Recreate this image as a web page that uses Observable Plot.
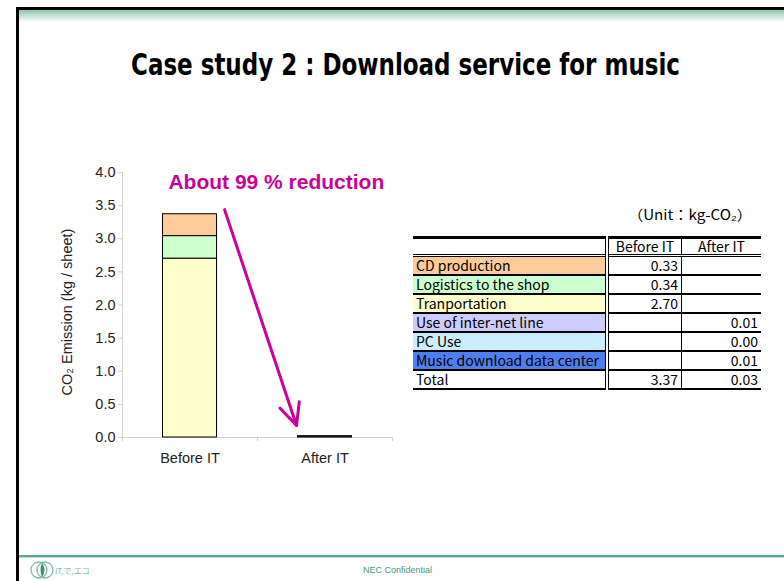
<!DOCTYPE html>
<html>
<head>
<meta charset="utf-8">
<script src="https://cdn.jsdelivr.net/npm/d3@7"></script>
<script src="https://cdn.jsdelivr.net/npm/@observablehq/plot@0.6"></script>
<style>
  html, body { margin: 0; padding: 0; background: #fff; }
  #slide { position: relative; width: 784px; height: 581px; overflow: hidden; background: #fff; font-family: "Liberation Sans", Arial, sans-serif; }
  .abs { position: absolute; }
  #topline { left: 16px; top: 7px; width: 768px; height: 3px; background: #000; }
  #band { left: 18px; top: 10px; width: 766px; height: 12px; background: linear-gradient(#8cc4ab, #ffffff); }
  #leftline { left: 16px; top: 7px; width: 3px; height: 574px; background: #000; }
  #bottomline { left: 19px; top: 555px; width: 765px; height: 2px; background: #5fa88a; }
  #bottomline2 { left: 19px; top: 557px; width: 765px; height: 1px; background: #b5dccb; }
  #title { left: 131px; top: 47px; white-space: nowrap; font-family: "DejaVu Sans", sans-serif; font-stretch: condensed; font-weight: bold; font-size: 30px; color: #000; transform-origin: 0 0; }
  #chart { left: 50px; top: 150px; }
  #unit { left: 628px; top: 204px; font-family: "Noto Sans CJK JP", sans-serif; font-size: 14px; color: #000; white-space: nowrap; transform-origin: 0 0; }
  #tbl { left: 413px; top: 236px; border-collapse: collapse; font-family: "Noto Sans CJK JP", sans-serif; font-size: 14px; color: #000; }
  #tbl td { padding: 0 3px; height: 17px; line-height: 17px; white-space: nowrap; overflow: hidden; border-bottom: 2px solid #000; }
  #tbl tr.head td { border-top: 3px solid #000; border-bottom: 3px double #000; height: 15px; line-height: 15px; text-align: center; }
  #tbl td.lab { width: 186px; max-width: 186px; border-right: 4px double #000; }
  #tbl td.v1 { width: 66px; text-align: right; border-right: 1px solid #000; }
  #tbl td.v2 { width: 73px; text-align: right; }
  #conf { left: 0; top: 565px; width: 795px; text-align: center; font-size: 9px; color: #3f9a7a; }
  #logo { left: 30px; top: 559px; }
</style>
</head>
<body>
<div id="slide">
  <div class="abs" id="band"></div>
  <div class="abs" id="topline"></div>
  <div class="abs" id="leftline"></div>
  <div class="abs" id="title"></div>
  <div class="abs" id="chart"></div>
  <div class="abs" id="unit"></div>
  <table class="abs" id="tbl"></table>
  <div class="abs" id="bottomline"></div>
  <div class="abs" id="bottomline2"></div>
  <div class="abs" id="logo"></div>
  <div class="abs" id="conf"></div>
</div>
<script>
// ---------- data ----------
const titleText = "Case study 2 : Download service for music";
const categories = ["Before IT", "After IT"];
const components = ["CD production", "Logistics to the shop", "Tranportation", "Use of inter-net line", "PC Use", "Music download data center"];
const componentColors = ["#FFCC99", "#CCFFCC", "#FFFFCC", "#CCCCFF", "#CCECFF", "#4F7FEF"];
const beforeIT = [0.33, 0.34, 2.70, null, null, null];
const afterIT = [null, null, null, 0.01, 0.00, 0.01];
const totals = [3.37, 0.03];
const yTicks = [0, 0.5, 1.0, 1.5, 2.0, 2.5, 3.0, 3.5, 4.0];
const yLabel = "CO₂ Emission (kg / sheet)";
const unitText = "（Unit：kg-CO₂）";
const annotationText = "About 99 % reduction";
// annotation position in data units (x: category index, y: kg)
const annotationPos = [-0.16, 3.85];
const arrowPos = [0.256, 3.44, 0.789, 0.18];
const footerText = "NEC Confidential";
const logoText = "IT,で,エコ";

const titleEl = document.getElementById("title");
titleEl.textContent = titleText;
titleEl.style.transform = `scaleX(${549 / titleEl.getBoundingClientRect().width})`;
const unitEl = document.getElementById("unit");
unitEl.textContent = unitText;
unitEl.style.transform = `scaleX(${124 / unitEl.getBoundingClientRect().width})`;
document.getElementById("conf").textContent = footerText;

// ---------- stacked rows (bottom to top) ----------
const rows = [];
[beforeIT, afterIT].forEach((vals, ci) => {
  let acc = 0;
  for (let k = components.length - 1; k >= 0; k--) {
    const v = vals[k];
    if (v == null) continue;
    rows.push({i: ci, name: components[k], color: componentColors[k], y1: acc, y2: acc + v});
    acc += v;
  }
});

const plot = Plot.plot({
  width: 360,
  height: 322,
  marginLeft: 72,
  marginRight: 18,
  marginTop: 22,
  marginBottom: 35,
  style: {fontFamily: "Liberation Sans, Arial, sans-serif", fontSize: "14.5px", color: "#222", background: "transparent"},
  x: {type: "linear", domain: [-0.5, categories.length - 0.5]},
  y: {domain: [0, 4]},
  color: {type: "identity"},
  marks: [
    Plot.ruleY([0], {x1: -0.5, x2: categories.length - 0.5, stroke: "#d0d0d0", strokeWidth: 1}),
    Plot.ruleX([-0.5], {y1: 0, y2: 4, stroke: "#d0d0d0", strokeWidth: 1}),
    Plot.axisY({ticks: yTicks, tickFormat: d3.format(".1f"), tickSize: 4, tickPadding: 3, stroke: "#d0d0d0", fill: "#222", fontSize: 14.5, label: null}),
    Plot.axisX({ticks: d3.range(categories.length + 1).map(d => d - 0.5), tickFormat: () => "", tickSize: 4, stroke: "#d0d0d0", label: null}),
    Plot.axisX({ticks: d3.range(categories.length), tickFormat: d => categories[d], tickSize: 0, tickPadding: 15, fill: "#222", fontSize: 14.5, label: null}),
    Plot.text([yLabel], {frameAnchor: "left", dx: -55, dy: 7, rotate: -90, textAnchor: "middle", text: d => d, fontSize: 14.5, fill: "#222"}),
    Plot.rect(rows, {x1: d => d.i - 0.2, x2: d => d.i + 0.2, y1: "y1", y2: "y2", fill: "color", stroke: "#000", strokeWidth: 1}),
    Plot.text([annotationText], {x: annotationPos[0], y: annotationPos[1], text: d => d, textAnchor: "start", fontSize: 21, fontWeight: "bold", fill: "#CC0099"}),
    Plot.arrow([arrowPos], {x1: d => d[0], y1: d => d[1], x2: d => d[2], y2: d => d[3], stroke: "#CC0099", strokeWidth: 3, headLength: 12, headAngle: 50})
  ]
});
document.getElementById("chart").appendChild(plot);

// ---------- table ----------
const tbl = d3.select("#tbl");
const head = tbl.append("tr").attr("class", "head");
head.append("td").attr("class", "lab").style("text-align", "left").html("&nbsp;");
head.append("td").attr("class", "v1").style("text-align", "center").text(categories[0]);
head.append("td").attr("class", "v2").style("text-align", "center").text(categories[1]);
const fmt = d3.format(".2f");
components.forEach((c, k) => {
  const tr = tbl.append("tr");
  tr.append("td").attr("class", "lab").style("background", componentColors[k]).text(c);
  tr.append("td").attr("class", "v1").text(beforeIT[k] == null ? "" : fmt(beforeIT[k]));
  tr.append("td").attr("class", "v2").text(afterIT[k] == null ? "" : fmt(afterIT[k]));
});
const tt = tbl.append("tr");
tt.append("td").attr("class", "lab").text("Total");
tt.append("td").attr("class", "v1").text(fmt(totals[0]));
tt.append("td").attr("class", "v2").text(fmt(totals[1]));

// ---------- footer logo ----------
document.getElementById("logo").innerHTML =
  '<svg width="60" height="22" xmlns="http://www.w3.org/2000/svg">' +
  '<circle cx="9" cy="11" r="8" fill="none" stroke="#7fb8a4" stroke-width="1.3"/>' +
  '<circle cx="15" cy="11" r="8" fill="none" stroke="#7fb8a4" stroke-width="1.3"/>' +
  '<path d="M12 4 Q17 11 12 18 Q9 11 12 4 Z" fill="#3f8f74"/>' +
  '<text x="25" y="15" font-size="8" fill="#7fb8a4" font-family="Noto Sans CJK JP, sans-serif">' + logoText + '</text></svg>';
</script>
</body>
</html>
